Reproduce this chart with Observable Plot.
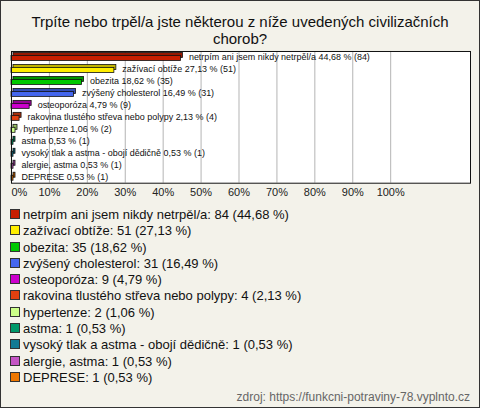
<!DOCTYPE html>
<html><head><meta charset="utf-8">
<script src="https://cdn.jsdelivr.net/npm/d3@7"></script>
<script src="https://cdn.jsdelivr.net/npm/@observablehq/plot@0.6"></script>
<style>
body{margin:0;background:#fff;font-family:"Liberation Sans",Arial,sans-serif;}
#box{position:relative;width:480px;height:408px;box-sizing:border-box;border:1px solid #333;background:#f3f2ea;overflow:hidden;}
#title{position:absolute;left:-1px;top:12px;width:480px;text-align:center;font-size:15px;line-height:17px;color:#111;}
#plot{position:absolute;left:-1px;top:44px;}
#legend{position:absolute;left:9px;top:206px;font-size:13px;line-height:16.3px;color:#111;}
#legend .sw{display:inline-block;width:8px;height:8px;border:1px solid #333;margin-right:3px;vertical-align:0px;}
#src{position:absolute;right:9px;top:389px;font-size:12px;color:#666;}
</style></head><body>
<div id="box">
<div id="title">Trpíte nebo trpěl/a jste některou z níže uvedených civilizačních<br>chorob?</div>
<div id="plot"></div>
<div id="legend"></div>
<div id="src">zdroj: https://funkcni-potraviny-78.vyplnto.cz</div>
</div>
<script>
const categories = ["netrpím ani jsem nikdy netrpěl/a","zažívací obtíže","obezita","zvýšený cholesterol","osteoporóza","rakovina tlustého střeva nebo polypy","hypertenze","astma","vysoký tlak a astma - obojí dědičně","alergie, astma","DEPRESE"];
const counts = [84,51,35,31,9,4,2,1,1,1,1];
const percents = [44.68,27.13,18.62,16.49,4.79,2.13,1.06,0.53,0.53,0.53,0.53];
const colors = ["#c81e00","#ffee00","#00c800","#4466ee","#cc00cc","#e04010","#ccff88","#00996a","#137a94","#c455c4","#ee7700"];
const tickValues = [0,10,20,30,40,50,60,70,80,90,100];

const fmt = v => v.toFixed(2).replace(".", ",");
const data = categories.map((c,i)=>({cat:c,count:counts[i],pct:percents[i],color:colors[i],dark:d3.color(colors[i]).darker(0.8).formatHex()}));

const plot = Plot.plot({
  width:480, height:166,
  marginLeft:11, marginRight:9, marginTop:6, marginBottom:28,
  x:{domain:[0,121.05], axis:null},
  y:{domain:categories, axis:null, padding:0},
  color:{type:"identity"},
  style:{fontFamily:"Liberation Sans, Arial, sans-serif", background:"transparent"},
  marks:[
    Plot.frame({fill:"white", stroke:"none"}),
    Plot.ruleX(tickValues.slice(1), {stroke:"#b4b4b4", strokeWidth:1}),
    Plot.barX(data, {x:"pct", y:"cat", fill:"dark", stroke:"#111", strokeWidth:0.8, insetTop:3, insetBottom:4, dx:2, dy:-1.5}),
    Plot.barX(data, {x:"pct", y:"cat", fill:"color", stroke:"#111", strokeWidth:0.8, insetTop:4.5, insetBottom:2.5}),
    Plot.text(data, {x:"pct", y:"cat", text:d=>`${d.cat} ${fmt(d.pct)} % (${d.count})`, textAnchor:"start", dx:8, fontSize:9, fill:"#111"}),
    Plot.frame({stroke:"#111", strokeWidth:1}),
    Plot.text(tickValues.slice(0,1), {x:d=>d, frameAnchor:"bottom", dy:13, text:d=>d+"%", textAnchor:"start", fontSize:11, fill:"#222"}),
    Plot.text(tickValues.slice(1), {x:d=>d, frameAnchor:"bottom", dy:13, text:d=>d+"%", textAnchor:"middle", fontSize:11, fill:"#222"})
  ]
});
document.getElementById("plot").appendChild(plot);

const lg = document.getElementById("legend");
data.forEach(d=>{
  const row = document.createElement("div");
  const sw = document.createElement("span");
  sw.className="sw"; sw.style.background=d.color;
  row.appendChild(sw);
  row.appendChild(document.createTextNode(`${d.cat}: ${d.count} (${fmt(d.pct)} %)`));
  lg.appendChild(row);
});
</script>
</body></html>
